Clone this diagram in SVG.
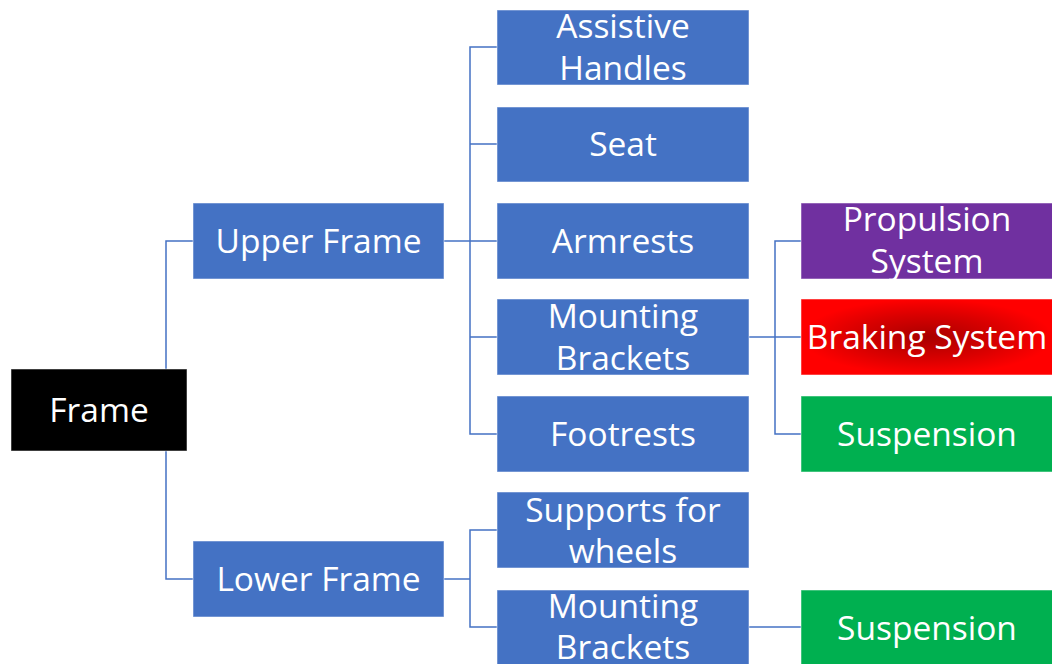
<svg xmlns="http://www.w3.org/2000/svg" width="1052" height="664" viewBox="0 0 1052 664">
  <style>
    .box { stroke: #ffffff; stroke-opacity: 0.5; stroke-width: 1; }
    .blue { fill: #4472C4; }
    .green { fill: #00B050; }
    .purple { fill: #7030A0; }
    .black { fill: #000000; }
    .lbl { font-family: "Open Sans", "Noto Sans", sans-serif; font-size: 33.5px; fill: #ffffff; text-anchor: middle; dominant-baseline: central; }
    .conn { fill: none; stroke: #4472C4; stroke-width: 1.5; }
  </style>
  <defs>
    <radialGradient id="brakeGrad" cx="0.5" cy="0.5" r="0.5">
      <stop offset="0" stop-color="#A80000"/>
      <stop offset="0.6" stop-color="#DA0000"/>
      <stop offset="1" stop-color="#FF0000"/>
    </radialGradient>
  </defs>

  <!-- connectors -->
  <g id="connectors" class="conn">
    <path d="M193,241 H166 V579 H193"/>
    <path d="M444,241 H470"/>
    <path d="M497,47 H470 V434 H497"/>
    <path d="M470,144 H497 M470,241 H497 M470,337 H497"/>
    <path d="M444,579 H470"/>
    <path d="M497,530 H470 V627 H497"/>
    <path d="M749,337 H801"/>
    <path d="M801,241 H775 V434 H801"/>
    <path d="M749,627 H801"/>
  </g>

  <g id="frame">
    <rect class="box black" x="11" y="369" width="176" height="82"/>
    <text class="lbl" x="99" y="409">Frame</text>
  </g>

  <g id="upper-frame">
    <rect class="box blue" x="193" y="203" width="251" height="76"/>
    <text class="lbl" x="318.5" y="240">Upper Frame</text>
  </g>
  <g id="lower-frame">
    <rect class="box blue" x="193" y="541" width="251" height="76"/>
    <text class="lbl" x="318.5" y="578">Lower Frame</text>
  </g>

  <g id="assistive-handles">
    <rect class="box blue" x="497" y="10" width="252" height="75"/>
    <text class="lbl" x="623" y="25">Assistive</text>
    <text class="lbl" x="623" y="67">Handles</text>
  </g>
  <g id="seat">
    <rect class="box blue" x="497" y="107" width="252" height="75"/>
    <text class="lbl" x="623" y="143">Seat</text>
  </g>
  <g id="armrests">
    <rect class="box blue" x="497" y="203" width="252" height="76"/>
    <text class="lbl" x="623" y="240">Armrests</text>
  </g>
  <g id="mounting-brackets-upper">
    <rect class="box blue" x="497" y="299" width="252" height="76"/>
    <text class="lbl" x="623" y="315">Mounting</text>
    <text class="lbl" x="623" y="357">Brackets</text>
  </g>
  <g id="footrests">
    <rect class="box blue" x="497" y="396" width="252" height="76"/>
    <text class="lbl" x="623" y="433">Footrests</text>
  </g>
  <g id="supports-for-wheels">
    <rect class="box blue" x="497" y="492" width="252" height="76"/>
    <text class="lbl" x="623" y="509">Supports for</text>
    <text class="lbl" x="623" y="550">wheels</text>
  </g>
  <g id="mounting-brackets-lower">
    <rect class="box blue" x="497" y="590" width="252" height="76"/>
    <text class="lbl" x="623" y="605">Mounting</text>
    <text class="lbl" x="623" y="646">Brackets</text>
  </g>

  <g id="propulsion-system">
    <rect class="box purple" x="801" y="203" width="252" height="76"/>
    <text class="lbl" x="927" y="218">Propulsion</text>
    <text class="lbl" x="927" y="260">System</text>
  </g>
  <g id="braking-system">
    <rect class="box" fill="url(#brakeGrad)" x="801" y="299" width="252" height="76"/>
    <text class="lbl" x="927" y="336">Braking System</text>
  </g>
  <g id="suspension-upper">
    <rect class="box green" x="801" y="396" width="252" height="76"/>
    <text class="lbl" x="927" y="433">Suspension</text>
  </g>
  <g id="suspension-lower">
    <rect class="box green" x="801" y="590" width="252" height="76"/>
    <text class="lbl" x="927" y="627">Suspension</text>
  </g>
</svg>
